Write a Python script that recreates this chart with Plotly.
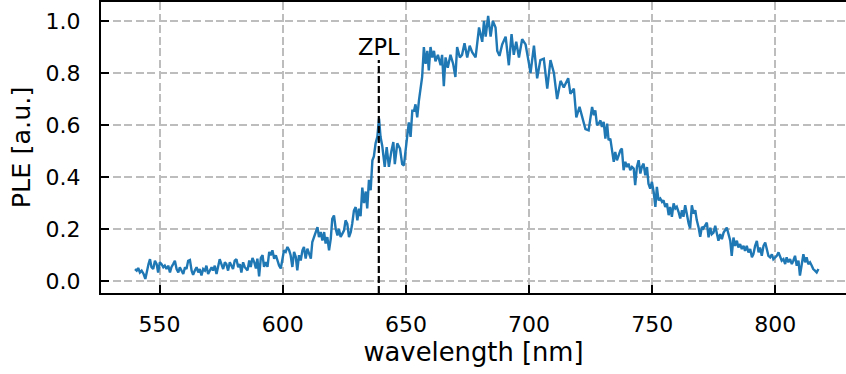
import plotly.graph_objects as go

# ---------------- data ----------------
wavelength = [
    540.0, 540.7, 541.3, 542.0, 542.7, 543.5, 544.2, 544.8, 545.5, 546.1, 546.7, 547.4, 548.1, 548.8, 549.4,
    550.1, 550.8, 551.5, 552.1, 552.8, 553.5, 554.2, 554.8, 555.5, 556.2, 556.9, 557.6, 558.2, 558.9, 559.6,
    560.3, 560.9, 561.6, 562.3, 563.0, 563.6, 564.3, 565.0, 565.7, 566.3, 567.0, 567.7, 568.4, 569.0, 569.7,
    570.4, 571.1, 571.7, 572.4, 573.1, 573.8, 574.4, 575.1, 575.8, 576.5, 577.1, 577.8, 578.5, 579.2, 579.8,
    580.5, 581.2, 581.9, 582.6, 583.2, 583.9, 584.6,
    585.7, 586.4, 587.0, 587.7, 588.4, 589.1, 589.7, 590.4, 591.1, 591.8, 592.4, 593.1, 593.8, 594.5, 595.1,
    595.8, 596.5, 597.2, 597.8, 598.5, 599.2, 599.9, 600.5, 601.2, 601.9, 602.6, 603.2, 603.9, 604.6, 605.3,
    605.9, 606.6, 607.3, 608.0, 608.6, 609.3, 610.0, 610.7, 611.4, 612.0, 612.7, 613.4, 614.1, 614.7, 615.4,
    616.1, 616.8, 617.4, 618.1, 618.8, 619.5, 620.1, 620.8, 621.5, 622.2, 622.8, 623.5, 624.2, 624.9, 625.5,
    626.2, 626.9, 627.6, 628.2, 628.9, 629.6, 630.3, 630.9,
    631.6, 632.3, 633.0, 633.7, 634.3, 635.0, 635.7, 636.4, 637.0, 637.7, 638.4, 639.1, 639.7, 640.4, 641.4,
    642.2, 643.1, 644.1, 644.9, 645.5, 646.5, 647.6, 648.5, 649.2, 649.9, 650.5, 651.2, 651.9, 652.6, 653.3,
    653.9, 654.6, 655.3, 655.9, 656.6, 657.3, 658.0, 658.7, 659.3, 660.0, 660.7, 661.4, 662.0, 663.0, 664.1,
    664.7, 665.4, 666.1, 667.0, 668.1, 669.2, 670.1, 670.8, 671.9, 672.8, 673.8, 674.9, 675.9, 676.9, 678.3,
    679.2,
    679.7, 681.0, 681.7, 682.4, 683.4, 684.4, 685.3, 686.4, 687.1, 688.0, 689.1, 690.5, 691.8, 692.9, 693.8,
    694.8, 695.9, 697.2, 698.6, 699.9, 700.6, 702.0, 703.3, 704.6, 706.0, 707.4, 708.7, 710.1, 711.4, 712.8,
    714.1, 715.9, 716.8, 718.2, 719.2, 720.5, 721.5, 722.9, 724.2,
    725.6, 726.3, 726.9, 727.6, 728.3, 729.0, 729.6, 730.3, 731.0, 731.7, 732.3, 733.0, 733.7, 734.4, 735.0,
    735.7, 736.4, 737.1, 737.7, 738.4, 739.1, 739.8, 740.4, 741.1, 741.8, 742.5, 743.1, 743.8, 744.5, 745.2,
    745.8, 746.5, 747.2, 747.9, 748.5, 749.2, 749.9, 750.6, 751.3, 751.9, 752.6, 753.3, 754.0, 754.6, 755.3,
    756.0, 756.7, 757.3, 758.0, 758.7, 759.4, 760.0, 760.7, 761.4, 762.1, 762.7, 763.4, 764.1, 764.8, 765.4,
    766.1, 766.8, 767.5, 768.1, 768.8, 769.5, 770.2, 770.8,
    771.5, 772.2, 772.9, 773.6, 774.2, 774.9, 775.6, 776.3, 776.9, 777.6, 778.3, 779.0, 779.6, 780.3, 781.0,
    781.7, 782.3, 783.0, 783.7, 784.4, 785.0, 785.7, 786.4, 787.1, 787.7, 788.4, 789.1, 789.8, 790.5, 791.1,
    791.8, 792.5, 793.2, 793.8, 794.5, 795.2, 795.9, 796.5, 797.2, 797.9, 798.6, 799.2, 799.9, 800.6, 801.3,
    801.9, 802.6, 803.3, 804.0, 804.6, 805.3, 806.0, 806.7, 807.3, 808.0, 808.7, 809.4, 810.0, 810.7, 811.4,
    812.1, 812.7, 813.4, 814.1, 814.8, 815.4, 816.1, 816.8, 817.5,
]

ple = [
    0.047, 0.041, 0.051, 0.034, 0.041, 0.028, 0.009, 0.041, 0.066, 0.085, 0.054, 0.047, 0.079, 0.066, 0.034,
    0.073, 0.066, 0.054, 0.060, 0.047, 0.060, 0.034, 0.054, 0.066, 0.079, 0.047, 0.034, 0.054, 0.041, 0.028,
    0.054, 0.047, 0.079, 0.082, 0.041, 0.025, 0.041, 0.054, 0.034, 0.047, 0.022, 0.047, 0.041, 0.060, 0.028,
    0.041, 0.054, 0.041, 0.060, 0.028, 0.066, 0.085, 0.066, 0.047, 0.073, 0.066, 0.041, 0.073, 0.060, 0.047,
    0.079, 0.085, 0.054, 0.066, 0.034, 0.073, 0.054,
    0.042, 0.080, 0.055, 0.090, 0.074, 0.049, 0.087, 0.019, 0.090, 0.100, 0.055, 0.074, 0.055, 0.113, 0.100,
    0.119, 0.087, 0.100, 0.080, 0.061, 0.049, 0.093, 0.119, 0.113, 0.132, 0.119, 0.100, 0.055, 0.113, 0.093,
    0.042, 0.100, 0.080, 0.119, 0.132, 0.087, 0.125, 0.106, 0.087, 0.151, 0.170, 0.196, 0.208, 0.170, 0.189,
    0.157, 0.189, 0.145, 0.170, 0.119, 0.164, 0.240, 0.253, 0.202, 0.176, 0.202, 0.170, 0.183, 0.196, 0.234,
    0.221, 0.170, 0.189, 0.221, 0.272, 0.285, 0.234, 0.279,
    0.250, 0.360, 0.300, 0.345, 0.280, 0.390, 0.350, 0.465, 0.480, 0.530, 0.555, 0.625, 0.555, 0.520, 0.440,
    0.515, 0.440, 0.500, 0.535, 0.450, 0.530, 0.510, 0.450, 0.445, 0.515, 0.555, 0.610, 0.555, 0.655, 0.655,
    0.680, 0.630, 0.695, 0.745, 0.785, 0.900, 0.835, 0.885, 0.810, 0.900, 0.860, 0.885, 0.845, 0.870, 0.830,
    0.870, 0.750, 0.860, 0.820, 0.870, 0.835, 0.785, 0.900, 0.860, 0.870, 0.915, 0.860, 0.905, 0.880, 0.860,
    0.925,
    0.975, 0.920, 1.000, 0.940, 1.020, 0.940, 1.000, 0.975, 0.885, 0.866, 0.910, 0.940, 0.830, 0.950, 0.870,
    0.920, 0.860, 0.930, 0.910, 0.840, 0.800, 0.905, 0.780, 0.850, 0.855, 0.740, 0.850, 0.800, 0.700, 0.770,
    0.745, 0.780, 0.720, 0.740, 0.630, 0.670, 0.630, 0.585, 0.580,
    0.670, 0.638, 0.657, 0.600, 0.606, 0.618, 0.593, 0.612, 0.548, 0.606, 0.542, 0.548, 0.503, 0.459, 0.497,
    0.465, 0.484, 0.503, 0.510, 0.427, 0.459, 0.439, 0.452, 0.427, 0.439, 0.433, 0.369, 0.439, 0.465, 0.414,
    0.439, 0.452, 0.407, 0.439, 0.375, 0.356, 0.382, 0.343, 0.286, 0.363, 0.311, 0.318, 0.305, 0.311, 0.286,
    0.299, 0.254, 0.286, 0.248, 0.299, 0.280, 0.286, 0.267, 0.241, 0.273, 0.248, 0.292, 0.248, 0.222, 0.203,
    0.292, 0.260, 0.273, 0.235, 0.209, 0.171, 0.209, 0.203,
    0.213, 0.225, 0.169, 0.206, 0.181, 0.187, 0.213, 0.181, 0.156, 0.181, 0.162, 0.187, 0.194, 0.206, 0.181,
    0.156, 0.098, 0.168, 0.136, 0.156, 0.130, 0.143, 0.124, 0.136, 0.117, 0.136, 0.111, 0.124, 0.092, 0.104,
    0.136, 0.155, 0.111, 0.130, 0.098, 0.136, 0.149, 0.124, 0.098, 0.092, 0.104, 0.085, 0.092, 0.098, 0.111,
    0.092, 0.079, 0.085, 0.066, 0.092, 0.073, 0.085, 0.066, 0.079, 0.098, 0.060, 0.079, 0.022, 0.066, 0.104,
    0.073, 0.092, 0.066, 0.073, 0.060, 0.047, 0.041, 0.034, 0.047,
]

x_ticks = [550, 600, 650, 700, 750, 800]
y_ticks = [0.0, 0.2, 0.4, 0.6, 0.8, 1.0]
y_tick_labels = ["0.0", "0.2", "0.4", "0.6", "0.8", "1.0"]
zpl_wavelength = 639
zpl_height = 0.85
x_range = [526.2, 828.7]
y_range = [-0.045, 1.073]

FONT = "DejaVu Sans"

fig = go.Figure()
fig.add_trace(go.Scatter(
    x=wavelength, y=ple, mode="lines",
    line=dict(color="#1f77b4", width=2.4),
    hoverinfo="skip", showlegend=False,
))

fig.add_shape(type="line", xref="x", yref="y",
              x0=zpl_wavelength, x1=zpl_wavelength, y0=y_range[0], y1=zpl_height,
              line=dict(color="black", width=2.2, dash="7px,3px"), layer="above")
fig.add_annotation(x=zpl_wavelength, y=zpl_height, xref="x", yref="y",
                   text="ZPL", showarrow=False, yanchor="bottom", xanchor="center",
                   yshift=-2, font=dict(family=FONT, size=22.5, color="black"))

axis_common = dict(
    showgrid=True, gridcolor="#bdbdbd", gridwidth=1.5, griddash="8px,3.5px",
    zeroline=False, showline=True, linecolor="black", linewidth=2,
    ticks="inside", ticklen=8, tickwidth=2, tickcolor="black",
    tickfont=dict(family=FONT, size=22, color="black"),
)

fig.update_xaxes(
    **axis_common, range=x_range, tickvals=x_ticks, mirror=True,
    ticklabelstandoff=11,
    title=dict(text="wavelength [nm]", font=dict(family=FONT, size=25.8, color="black"), standoff=7),
)
fig.update_yaxes(
    **axis_common, range=y_range, tickvals=y_ticks, ticktext=y_tick_labels,
    ticklabelstandoff=14,
    title=dict(text="PLE [a.u.]", font=dict(family=FONT, size=25.5, color="black"), standoff=8),
)

fig.update_layout(
    width=846, height=374,
    margin=dict(l=101, r=0, t=2, b=81),
    paper_bgcolor="white", plot_bgcolor="white",
    font=dict(family=FONT),
)

fig.write_html("out.html")
